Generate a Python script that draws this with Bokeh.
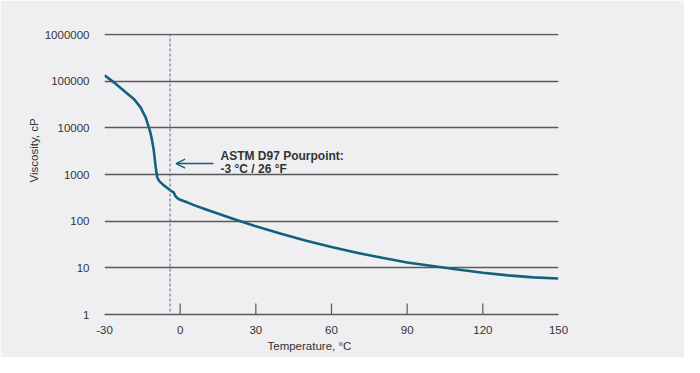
from bokeh.plotting import figure
from bokeh.models import FixedTicker, Span, Label, Arrow, OpenHead, ColumnDataSource, Title
from bokeh.embed import file_html
from bokeh.resources import INLINE

# data
temperature_c = [-30, -26.3, -22.3, -18.4, -15.7, -13.7, -12.4, -11.8, -11.2, -10.45, -9.78,
                 -9.1, -8.3, -7.1, -5.5, -3.8, -2.6, -1.9, -1.0, 0.0, 3, 6, 10, 20, 30, 40, 50,
                 60, 70, 80, 90, 100, 110, 120, 130, 140, 150]
viscosity_cp = [135000, 95000, 63000, 41900, 27700, 16900, 10300, 7940, 5620, 3270, 1560,
                875, 724, 631, 537, 454, 417, 347, 309, 288, 251, 216, 180, 117, 77.6, 53.7, 38.0,
                27.9, 21.1, 16.4, 13.0, 11.0, 9.2, 7.85, 6.9, 6.25, 5.9]

x_ticks = [-30, 0, 30, 60, 90, 120, 150]
x_tick_labels = ["-30", "0", "30", "60", "90", "120", "150"]
x_tick_marks = [0, 30, 60, 90, 120]
y_ticks = [1, 10, 100, 1000, 10000, 100000, 1000000]
y_tick_labels = ["1", "10", "100", "1000", "10000", "100000", "1000000"]

pour_point_x = -4
annotation_lines = ["ASTM D97 Pourpoint:", "-3 °C / 26 °F"]

BG = "#efeff2"
CURVE = "#14607f"
GRID = "#58595b"
TEXT = "#333333"
FONT = "Liberation Sans"

p = figure(width=684, height=357, output_backend="svg", toolbar_location=None,
           x_range=(-30, 150), y_range=(1, 1.06e6), y_axis_type="log",
           min_border_left=104, min_border_right=126, min_border_top=33, min_border_bottom=43)
p.background_fill_color = BG
p.border_fill_color = BG
p.outline_line_color = None

# axes
p.xaxis.ticker = FixedTicker(ticks=x_ticks, minor_ticks=[])
p.xaxis.major_label_overrides = {t: l for t, l in zip(x_ticks, x_tick_labels)}
p.xaxis.axis_line_color = GRID
p.xaxis.axis_line_width = 1.5
p.xaxis.major_tick_line_color = None
p.xaxis.minor_tick_line_color = None
p.xaxis.major_label_text_font = FONT
p.xaxis.major_label_text_font_size = "11.5px"
p.xaxis.major_label_text_color = TEXT
p.xaxis.major_label_standoff = 5

p.yaxis.ticker = FixedTicker(ticks=y_ticks, minor_ticks=[])
p.yaxis.major_label_overrides = {t: l for t, l in zip(y_ticks, y_tick_labels)}
p.yaxis.axis_line_color = None
p.yaxis.major_tick_line_color = None
p.yaxis.minor_tick_line_color = None
p.yaxis.major_label_text_font = FONT
p.yaxis.major_label_text_font_size = "11.5px"
p.yaxis.major_label_text_color = TEXT
p.yaxis.major_label_standoff = 9

p.xgrid.grid_line_color = None
p.ygrid.ticker = FixedTicker(ticks=y_ticks, minor_ticks=[])
p.ygrid.grid_line_color = GRID
p.ygrid.grid_line_width = 1.5

# inward tick marks on the x axis
p.segment(x0=x_tick_marks, y0=[1] * len(x_tick_marks), x1=x_tick_marks,
          y1=[1.72] * len(x_tick_marks), line_color=GRID, line_width=1.2)

# pour point line
p.add_layout(Span(location=pour_point_x, dimension="height", line_color="#4d6e8c",
                  line_width=1, line_dash="3 2"))

# curve
src = ColumnDataSource(dict(x=temperature_c, y=viscosity_cp))
p.line("x", "y", source=src, line_color=CURVE, line_width=2.6, line_join="round")

# arrow + annotation
p.add_layout(Arrow(end=OpenHead(size=9, line_color=CURVE, line_width=1.5),
                   x_start=13.2, y_start=1720, x_end=-1.6, y_end=1720,
                   line_color=CURVE, line_width=1.5))
p.add_layout(Label(x=16, y=2550, text=annotation_lines[0], text_font=FONT,
                   text_font_size="12px", text_font_style="bold", text_color=TEXT,
                   text_baseline="middle"))
p.add_layout(Label(x=16, y=1345, text=annotation_lines[1], text_font=FONT,
                   text_font_size="12px", text_font_style="bold", text_color=TEXT,
                   text_baseline="middle"))

# axis titles
p.add_layout(Title(text="Temperature, °C", align="left", offset=163, standoff=2,
                   text_font=FONT, text_font_size="11.5px", text_font_style="normal",
                   text_color=TEXT), "below")
p.add_layout(Title(text="Viscosity, cP", align="left", offset=132, standoff=4,
                   text_font=FONT, text_font_size="11.5px", text_font_style="normal",
                   text_color=TEXT), "left")

open("out.html", "w").write(file_html(p, INLINE))
